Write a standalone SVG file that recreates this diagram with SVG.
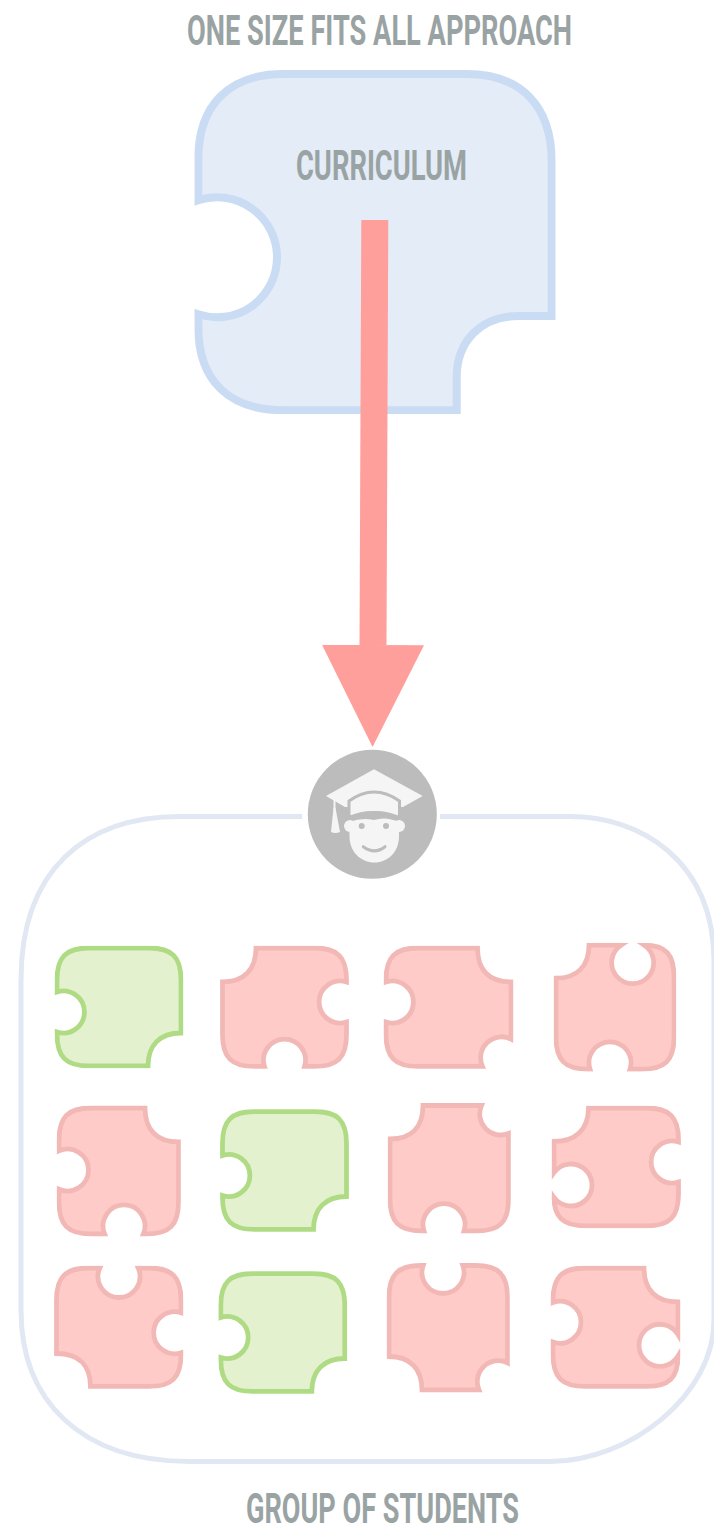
<svg xmlns="http://www.w3.org/2000/svg" xmlns:xlink="http://www.w3.org/1999/xlink" width="714" height="1527" viewBox="0 0 714 1527">
<style>
.t{font-family:"Roboto","Liberation Sans",sans-serif;font-weight:700;fill:#9aa3a3;font-size:42px}
.p{stroke-width:4.8;stroke-miterlimit:12;clip-path:url(#cp)}
.pink{fill:#ffcbc8;stroke:#f2b8b5}
.green{fill:#e4f1cf;stroke:#b0db85}
.w{fill:#f5f5f5}
.g{fill:none;stroke:#bcbcbc;stroke-width:3;stroke-linecap:round}
</style>
<defs>
<clipPath id="cp" clipPathUnits="objectBoundingBox"><rect x="-0.02" y="-0.02" width="1.04" height="1.04"/></clipPath>
<clipPath id="cc" clipPathUnits="objectBoundingBox"><rect x="-0.0113" y="-0.0119" width="1.0226" height="1.0238"/></clipPath>
<path id="gp" class="p green" d="M0 32C0 9 9 0 32 0H92C115 0 124 9 124 32V85C103 85 91 97 91 118H32C9 118 0 109 0 86V84A21 21 0 1 0 0 44Z"/>
<marker id="head" markerUnits="userSpaceOnUse" viewBox="0 0 102 102" refX="0" refY="51" markerWidth="102" markerHeight="102" orient="auto"><path d="M0 0L102 51L0 102Z" fill="#ff9f9c"/></marker>
</defs>
<rect width="714" height="1527" fill="#fff"/>
<g id="title"><text class="t" transform="translate(187 45) scale(.64 1)" textLength="601.6" lengthAdjust="spacingAndGlyphs">ONE SIZE FITS ALL APPROACH</text></g>
<g id="curriculum">
<path transform="translate(198.3 74)" fill="#e4ecf7" stroke="#c9dcf3" stroke-width="8" stroke-miterlimit="12" clip-path="url(#cc)" d="M0 85C0 32 30 0 85 0H268C323 0 353.4 32 353.4 88V242H320C282 242 258.4 268 258.4 303V336.3H85C30 336.3 0 306 0 253V240.3A60 60 0 1 0 0 126.3Z"/>
<text class="t" transform="translate(296 180) scale(.64 1)" textLength="267.2" lengthAdjust="spacingAndGlyphs">CURRICULUM</text>
</g>
<g id="group">
<path fill="none" stroke="#e1e8f3" stroke-width="5" d="M302 816.5H180C85 816.5 21 870 21 980V1310C21 1400 80 1461.5 190 1461.5H550C630 1461.5 714 1395 714 1320V960C713 860 640 816.5 570 816.5H440"/>
<text class="t" transform="translate(246 1523) scale(.64 1)" textLength="426.6" lengthAdjust="spacingAndGlyphs">GROUP OF STUDENTS</text>
</g>
<g id="connectors">
<line x1="374.8" y1="220" x2="373" y2="645" stroke="#ff9f9c" stroke-width="27" marker-end="url(#head)"/>
</g>
<g id="avatar">
<circle cx="372.3" cy="814.3" r="64.5" fill="#bcbcbc"/>
<path class="w" d="M374 769.3L422.7 796L403 807L345 807L326 796Z"/>
<path class="w" d="M349 801Q374 783 399.5 801V817.5Q386 812 374 812.5Q362 812 349 817.5Z" stroke="#bcbcbc" stroke-width="3"/>
<path class="w" d="M349.5 822Q362 817 374 820Q386 816 399 822V836C399 852 388 862.5 374.5 862.5C361 862.5 349.5 852 349.5 836Z"/>
<circle class="w" cx="350" cy="826" r="6"/>
<circle class="w" cx="399" cy="826" r="6"/>
<circle cx="361.7" cy="826" r="3" fill="#bcbcbc"/>
<circle cx="386" cy="826" r="3" fill="#bcbcbc"/>
<path class="g" d="M363.3 846.7Q374.3 855 385 846.7"/>
<path d="M334.5 800V810" stroke="#f5f5f5" stroke-width="2" fill="none"/>
<path class="w" d="M333.5 808H335.5L340 832Q335.5 834 331 832Z"/>
</g>
<g id="s11"><use xlink:href="#gp" href="#gp" x="57" y="948"/></g>
<g id="s12"><path transform="translate(222.5 948)" class="p pink" d="M0 34C21 34 33.5 22 33.5 0H92C115 0 124 9 124 32V34A21 21 0 1 0 124 74V86.5C124 109.5 115 118.5 92 118.5H82A21 21 0 1 0 42 118.5H32C9 118.5 0 109.5 0 86.5Z"/></g>
<g id="s13"><path transform="translate(386 948)" class="p pink" d="M0 32C0 9 9 0 32 0H91.5C91.5 22 103 34 125 34V91A21 21 0 0 0 96.5 118.5H32C9 118.5 0 109.5 0 86.5V74A21 21 0 1 0 0 34Z"/></g>
<g id="s14"><path transform="translate(556 945.2)" class="p pink" d="M0 33C21 33 33 21 33 0H65A21 21 0 1 0 88.3 0C110 0 118 9 118 32V92C118 115 109 124 86 124H74A21 21 0 1 0 34 124H32C9 124 0 115 0 92Z"/></g>
<g id="s21"><path transform="translate(59 1108)" class="p pink" d="M0 32C0 9 9 0 32 0H86C86 22 98 34 119.5 34V94C119.5 117 110.5 126 87.5 126H84.4A21 21 0 1 0 45.6 126H32C9 126 0 117 0 94V81.2A21 21 0 1 0 0 42.8Z"/></g>
<g id="s22"><use xlink:href="#gp" href="#gp" x="222.5" y="1111.5"/></g>
<g id="s23"><path transform="translate(390 1105.5)" class="p pink" d="M0 33.5C21 33.5 33 22 33 0H91.5A21 21 0 0 0 118.5 28V93.5C118.5 116.5 109.5 125.5 86.5 125.5H74A21 21 0 1 0 34 125.5H32C9 125.5 0 116.5 0 93.5Z"/></g>
<g id="s24"><path transform="translate(554 1108)" class="p pink" d="M0 33.5C21 33.5 34.5 22 34.5 0H92.5C115.5 0 124.5 9 124.5 32V34A21 21 0 1 0 124.5 74V86C124.5 109 115.5 118 92.5 118H32C9 118 0 109 0 89.3A21 21 0 1 0 0 64.7Z"/></g>
<g id="s31"><path transform="translate(56.5 1268)" class="p pink" d="M0 32C0 9 9 0 32 0H43.3A21 21 0 1 0 81.7 0H92.5C115.5 0 124.5 9 124.5 32V44.7A21 21 0 1 0 124.5 84.7V86.5C124.5 109.5 115.5 118.5 92.5 118.5H34C34 97 22 85.5 0 85.5Z"/></g>
<g id="s32"><use xlink:href="#gp" href="#gp" x="220.8" y="1273.5"/></g>
<g id="s33"><path transform="translate(389 1265.5)" class="p pink" d="M0 32C0 9 9 0 32 0H34.2A21 21 0 1 0 73.8 0H86.5C109.5 0 118.5 9 118.5 32V97.3A21 21 0 0 0 90 124.5H33C33 103 21 91 0 91Z"/></g>
<g id="s34"><path transform="translate(553 1268)" class="p pink" d="M0 32C0 9 9 0 32 0H91C91 22 103 34 125 34V66.5A21 21 0 1 0 125 88.1C125 110 116 118.5 93 118.5H32C9 118.5 0 109.5 0 86.5V74.1A21 21 0 1 0 0 34.5Z"/></g>
</svg>
